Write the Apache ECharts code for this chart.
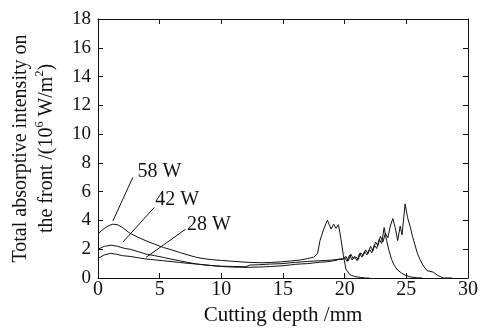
<!DOCTYPE html>
<html>
<head>
<meta charset="utf-8">
<script src="https://cdn.jsdelivr.net/npm/echarts@6/dist/echarts.min.js"></script>
<style>
  html, body { margin: 0; padding: 0; background: #fff; }
  #main { width: 481px; height: 331px; }
</style>
</head>
<body>
<div id="main"></div>
<script>
// 58 W
var depth58 = [0, 0.3, 0.6, 0.9, 1.2, 1.6, 2.0, 2.6, 3.2, 3.9, 4.6, 5.3, 6.0, 6.6, 7.3, 8.0, 8.7, 9.3, 10.0, 10.8, 11.6, 12.4, 13.2, 14.0, 14.8, 15.6, 16.4, 17.0, 17.5, 17.8, 18.0, 18.3, 18.6, 18.9, 19.1, 19.3, 19.5, 19.7, 19.9, 20.1, 20.4, 20.8, 21.3, 21.7, 22.0]
var int58 = [3.05, 3.3, 3.5, 3.65, 3.74, 3.7, 3.5, 3.1, 2.85, 2.58, 2.35, 2.12, 1.95, 1.78, 1.6, 1.43, 1.33, 1.27, 1.22, 1.17, 1.12, 1.08, 1.06, 1.08, 1.12, 1.18, 1.25, 1.35, 1.45, 1.7, 2.6, 3.4, 4.02, 3.4, 3.75, 3.45, 3.7, 2.7, 1.55, 0.62, 0.25, 0.1, 0.04, 0, 0]
// 42 W
var depth42 = [0, 0.5, 1.1, 1.6, 2.2, 2.6, 3.3, 3.9, 4.6, 5.3, 6.0, 6.6, 7.3, 8.0, 9.0, 10.0, 11.0, 12.0, 12.3, 13.0, 14.0, 15.0, 15.5, 16.0, 16.5, 17.0, 17.5, 18.0, 18.5, 19.0, 19.5, 19.8, 20.0, 20.2, 20.4, 20.6, 20.8, 21.0, 21.2, 21.4, 21.6, 21.8, 22.0, 22.2, 22.4, 22.6, 22.8, 23.0, 23.2, 23.4, 23.6, 23.8, 24.0, 24.3, 24.6, 24.9, 25.3, 25.8, 26.3]
var int42 = [2.0, 2.2, 2.28, 2.2, 2.05, 2.0, 1.82, 1.66, 1.55, 1.43, 1.3, 1.2, 1.08, 0.97, 0.88, 0.82, 0.8, 0.78, 0.9, 0.92, 0.97, 1.0, 1.05, 1.08, 1.12, 1.15, 1.18, 1.2, 1.22, 1.25, 1.3, 1.28, 1.45, 1.15, 1.6, 1.25, 1.5, 1.2, 1.7, 1.45, 1.85, 1.6, 2.0, 1.75, 2.3, 2.05, 2.7, 2.4, 3.5, 2.6, 1.9, 1.3, 0.9, 0.55, 0.35, 0.2, 0.08, 0.02, 0]
// 28 W
var depth28 = [0, 0.5, 1.0, 1.5, 2.0, 2.6, 3.3, 3.9, 4.6, 5.3, 6.0, 6.6, 7.3, 8.0, 9.0, 10.0, 11.0, 12.0, 13.0, 14.0, 15.0, 15.5, 16.0, 16.5, 17.0, 17.5, 18.0, 18.5, 19.0, 19.4, 19.7, 19.9, 20.1, 20.3, 20.5, 20.7, 20.9, 21.1, 21.3, 21.5, 21.7, 21.9, 22.1, 22.3, 22.5, 22.7, 22.9, 23.1, 23.3, 23.5, 23.7, 23.9, 24.1, 24.3, 24.5, 24.65, 24.9, 25.1, 25.3, 25.5, 25.7, 25.9, 26.1, 26.3, 26.5, 26.7, 27.0, 27.2, 27.5, 27.8, 28.0, 28.7]
var int28 = [1.36, 1.6, 1.71, 1.65, 1.55, 1.5, 1.4, 1.32, 1.26, 1.2, 1.14, 1.08, 1.02, 0.97, 0.88, 0.8, 0.76, 0.74, 0.76, 0.8, 0.85, 0.9, 0.95, 0.98, 1.0, 1.05, 1.1, 1.12, 1.18, 1.25, 1.35, 1.3, 1.5, 1.2, 1.65, 1.35, 1.45, 1.3, 1.75, 1.55, 1.95, 1.7, 2.2, 1.9, 2.5, 2.25, 2.9, 2.5, 3.1, 2.8, 3.6, 4.13, 3.5, 2.6, 3.6, 3.0, 5.15, 4.2, 3.6, 2.9, 2.3, 1.7, 1.3, 0.97, 0.7, 0.5, 0.45, 0.4, 0.2, 0.08, 0, 0]

var seriesNames = ['58 W', '42 W', '28 W']
// leader lines and label anchors, in data units
var leaderFrom = [[1.21, 3.97], [2.01, 2.49], [3.89, 1.43]]
var leaderTo = [[2.82, 6.99], [4.56, 4.9], [7.1, 3.39]]
var labelAt = [[3.2, 7.4], [4.65, 5.45], [7.22, 3.67]]

var xTicks = {min: 0, max: 30, interval: 5}
var yTicks = {min: 0, max: 18, interval: 2}

var FONT = 'Liberation Serif'
var INK = '#111'

function pairs(xs, ys) {
  var out = []
  for (var i = 0; i < xs.length; i++) out.push([xs[i], ys[i]])
  return out
}

var chart = echarts.init(document.getElementById('main'), null, {renderer: 'canvas'})

function axisBase(show) {
  return {
    axisLine: {show: true, onZero: false, lineStyle: {color: INK, width: 1}},
    axisTick: {show: true, inside: true, length: 5, lineStyle: {color: INK}},
    splitLine: {show: false},
    axisLabel: {show: show}
  }
}

var xMain = Object.assign(axisBase(true), {
  type: 'value', position: 'bottom',
  min: xTicks.min, max: xTicks.max, interval: xTicks.interval,
  name: 'Cutting depth /mm', nameLocation: 'middle', nameGap: 27,
  nameTextStyle: {fontFamily: FONT, fontSize: 21, color: INK}
})
xMain.axisLabel = {show: true, fontFamily: FONT, fontSize: 20, color: INK, margin: 2}

var yMain = Object.assign(axisBase(true), {
  type: 'value', position: 'left',
  min: yTicks.min, max: yTicks.max, interval: yTicks.interval,
  name: '{t|Total absorptive intensity on}\n{t|the front /(10}{s|6}{t| W/m}{s|2}{t|)}',
  nameLocation: 'middle', nameGap: 38, nameRotate: 90,
  nameTextStyle: {
    fontFamily: FONT, fontSize: 20, color: INK, lineHeight: 26, align: 'center',
    rich: {
      t: {fontFamily: FONT, fontSize: 20, color: INK, lineHeight: 26},
      s: {fontFamily: FONT, fontSize: 12, color: INK, lineHeight: 20, verticalAlign: 'top'}
    }
  }
})
yMain.axisLabel = {show: true, fontFamily: FONT, fontSize: 19, color: INK, margin: 7}

var xTop = Object.assign(axisBase(false), {
  type: 'value', position: 'top',
  min: xTicks.min, max: xTicks.max, interval: xTicks.interval
})
var yRight = Object.assign(axisBase(false), {
  type: 'value', position: 'right',
  min: yTicks.min, max: yTicks.max, interval: yTicks.interval
})

function lineSeries(name, xs, ys) {
  return {
    name: name, type: 'line', data: pairs(xs, ys),
    showSymbol: false, smooth: false, animation: false,
    lineStyle: {color: INK, width: 1},
    xAxisIndex: 0, yAxisIndex: 0
  }
}

chart.setOption({
  animation: false,
  backgroundColor: '#fff',
  grid: {left: 95, right: 13, top: 19, bottom: 52},
  xAxis: [xMain, xTop],
  yAxis: [yMain, yRight],
  series: [
    lineSeries(seriesNames[0], depth58, int58),
    lineSeries(seriesNames[1], depth42, int42),
    lineSeries(seriesNames[2], depth28, int28)
  ]
})

// annotations placed through the chart's own scales
var graphics = []
for (var i = 0; i < seriesNames.length; i++) {
  var a = chart.convertToPixel({gridIndex: 0}, leaderFrom[i])
  var b = chart.convertToPixel({gridIndex: 0}, leaderTo[i])
  var c = chart.convertToPixel({gridIndex: 0}, labelAt[i])
  graphics.push({
    type: 'line', silent: true,
    shape: {x1: a[0], y1: a[1], x2: b[0], y2: b[1]},
    style: {stroke: INK, lineWidth: 1}
  })
  graphics.push({
    type: 'text', silent: true, x: c[0], y: c[1],
    style: {text: seriesNames[i], fontFamily: FONT, fontSize: 20, fill: INK, verticalAlign: 'middle', align: 'left'}
  })
}
chart.setOption({graphic: graphics})
</script>
</body>
</html>
